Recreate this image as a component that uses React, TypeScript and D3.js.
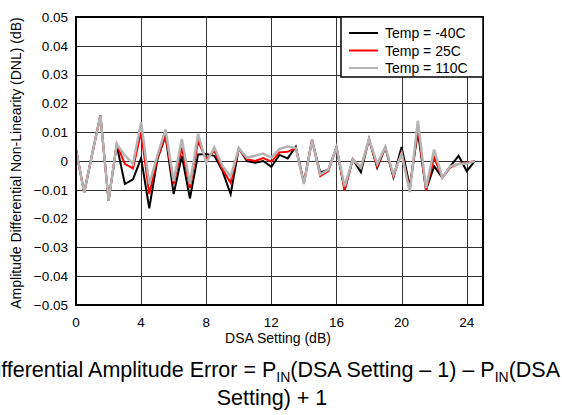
import React from "react";
import * as d3 from "d3";

const dsaSetting = [0,0.5,1,1.5,2,2.5,3,3.5,4,4.5,5,5.5,6,6.5,7,7.5,8,8.5,9,9.5,10,10.5,11,11.5,12,12.5,13,13.5,14,14.5,15,15.5,16,16.5,17,17.5,18,18.5,19,19.5,20,20.5,21,21.5,22,22.5,23,23.5,24,24.5];
const dnlMinus40 = [0.004,-0.011,0.0026,0.0158,-0.0138,0.0055,-0.008,-0.0064,0.001,-0.0164,0.0006,0.0088,-0.0115,0.0018,-0.013,0.0023,0.0024,0.0018,-0.0035,-0.0115,0.0044,0,-0.0006,0,-0.002,0.0021,0.0009,0.005,-0.0076,0.0073,-0.004,-0.003,0.0047,-0.01,0.0006,-0.0039,0.0076,-0.0023,0.0047,-0.0056,0.0049,-0.0088,0.01,-0.01,-0.0018,-0.0058,-0.0018,0.0018,-0.0035,0];
const dnl25 = [0.004,-0.011,0.0026,0.0158,-0.0138,0.0058,-0.001,-0.0026,0.01,-0.0115,0.001,0.0088,-0.008,0.0047,-0.0094,0.0068,0.0006,0.0035,-0.003,-0.0076,0.0044,0.0006,0,0.001,-0.0002,0.003,0.0032,0.0045,-0.0076,0.0073,-0.0053,-0.0035,0.0047,-0.0102,0.0006,-0.0023,0.0076,-0.002,0.0047,-0.0053,0.003,-0.01,0.0117,-0.0102,0.0012,-0.0058,-0.0022,-0.001,-0.0006,0];
const dnl110 = [0.004,-0.011,0.0026,0.0158,-0.0138,0.0058,0.002,-0.001,0.0135,-0.008,0.002,0.011,-0.007,0.0076,-0.008,0.0094,-0.0006,0.0047,-0.0018,-0.0053,0.0044,0.0012,0.0018,0.0026,0.0012,0.0042,0.005,0.0045,-0.008,0.0073,-0.0047,-0.003,0.0047,-0.0088,0.0006,-0.0023,0.0076,-0.001,0.0049,-0.0047,0.0026,-0.0108,0.014,-0.0094,0.004,-0.0058,-0.0018,-0.001,-0.0009,0];

const seriesNames = ["Temp = -40C", "Temp = 25C", "Temp = 110C"];
const seriesColors = ["#000000", "#ff0000", "#b4b4b4"];
const seriesWidths = [2, 2, 2.5];
const xTicks = [0, 4, 8, 12, 16, 20, 24];
const yTicks = [0.05, 0.04, 0.03, 0.02, 0.01, 0, -0.01, -0.02, -0.03, -0.04, -0.05];

const W = 562, H = 415;
const L = 76, R = 483, T = 17, B = 305;
const FONT = "Liberation Sans, Arial, sans-serif";

export default function App() {
  const x = d3.scaleLinear().domain([0, 25]).range([L, R]);
  const y = d3.scaleLinear().domain([-0.05, 0.05]).range([B, T]);
  const allSeries = [dnlMinus40, dnl25, dnl110];
  const line = (vals: number[]) =>
    d3.line<number>().x((_, i) => x(dsaSetting[i])).y((v) => y(v))(vals) || "";

  const fmt = (v: number) => (v === 0 ? "0" : d3.format(".2f")(v));

  return (
    <svg width={W} height={H} style={{ position: "absolute", left: 0, top: 0 }} fontFamily={FONT}>
      <rect x={0} y={0} width={W} height={H} fill="#fff" />
      {/* grid */}
      {yTicks.map((t) => (
        <line key={"gy" + t} x1={L} x2={R} y1={Math.round(y(t)) + 0.5} y2={Math.round(y(t)) + 0.5} stroke="#333" strokeWidth={1} />
      ))}
      {xTicks.map((t) => (
        <line key={"gx" + t} x1={Math.round(x(t)) + 0.5} x2={Math.round(x(t)) + 0.5} y1={T} y2={B} stroke="#333" strokeWidth={1} />
      ))}
      {/* data */}
      {allSeries.map((s, i) => (
        <path key={i} d={line(s)} fill="none" stroke={seriesColors[i]} strokeWidth={seriesWidths[i]} strokeLinejoin="miter" />
      ))}
      {/* frame */}
      <rect x={L} y={T} width={R - L} height={B - T} fill="none" stroke="#000" strokeWidth={2} />
      {/* legend */}
      <g>
        <rect x={341} y={T} width={R - 341} height={60} fill="#fff" stroke="#000" strokeWidth={1.5} />
        {seriesNames.map((n, i) => (
          <g key={n}>
            <line x1={349} x2={378} y1={33 + i * 17.5} y2={33 + i * 17.5} stroke={seriesColors[i]} strokeWidth={2} />
            <text x={385} y={33 + i * 17.5 + 5} fontSize={14} fill="#000">{n}</text>
          </g>
        ))}
      </g>
      {/* y ticks */}
      {yTicks.map((t) => (
        <text key={"ty" + t} x={68} y={y(t) + 4.8} fontSize={13.5} textAnchor="end" fill="#000">{fmt(t)}</text>
      ))}
      {xTicks.map((t) => (
        <text key={"tx" + t} x={x(t)} y={327} fontSize={13.5} textAnchor="middle" fill="#000">{t}</text>
      ))}
      <text x={278} y={343} fontSize={14} textAnchor="middle" fill="#000">DSA Setting (dB)</text>
      <text transform={`translate(21,${(T + B) / 2 + 2}) rotate(-90)`} fontSize={14} textAnchor="middle" fill="#000">
        Amplitude Differential Non-Linearity (DNL) (dB)
      </text>
      {/* caption */}
      <text x={560} y={377} fontSize={21.5} textAnchor="end" fill="#000">
        Differential Amplitude Error = P<tspan fontSize={14} dy={5}>IN</tspan><tspan dy={-5}>(DSA Setting – 1) – P</tspan><tspan fontSize={14} dy={5}>IN</tspan><tspan dy={-5}>(DSA</tspan>
      </text>
      <text x={272} y={405} fontSize={21.5} textAnchor="middle" fill="#000">Setting) + 1</text>
    </svg>
  );
}
